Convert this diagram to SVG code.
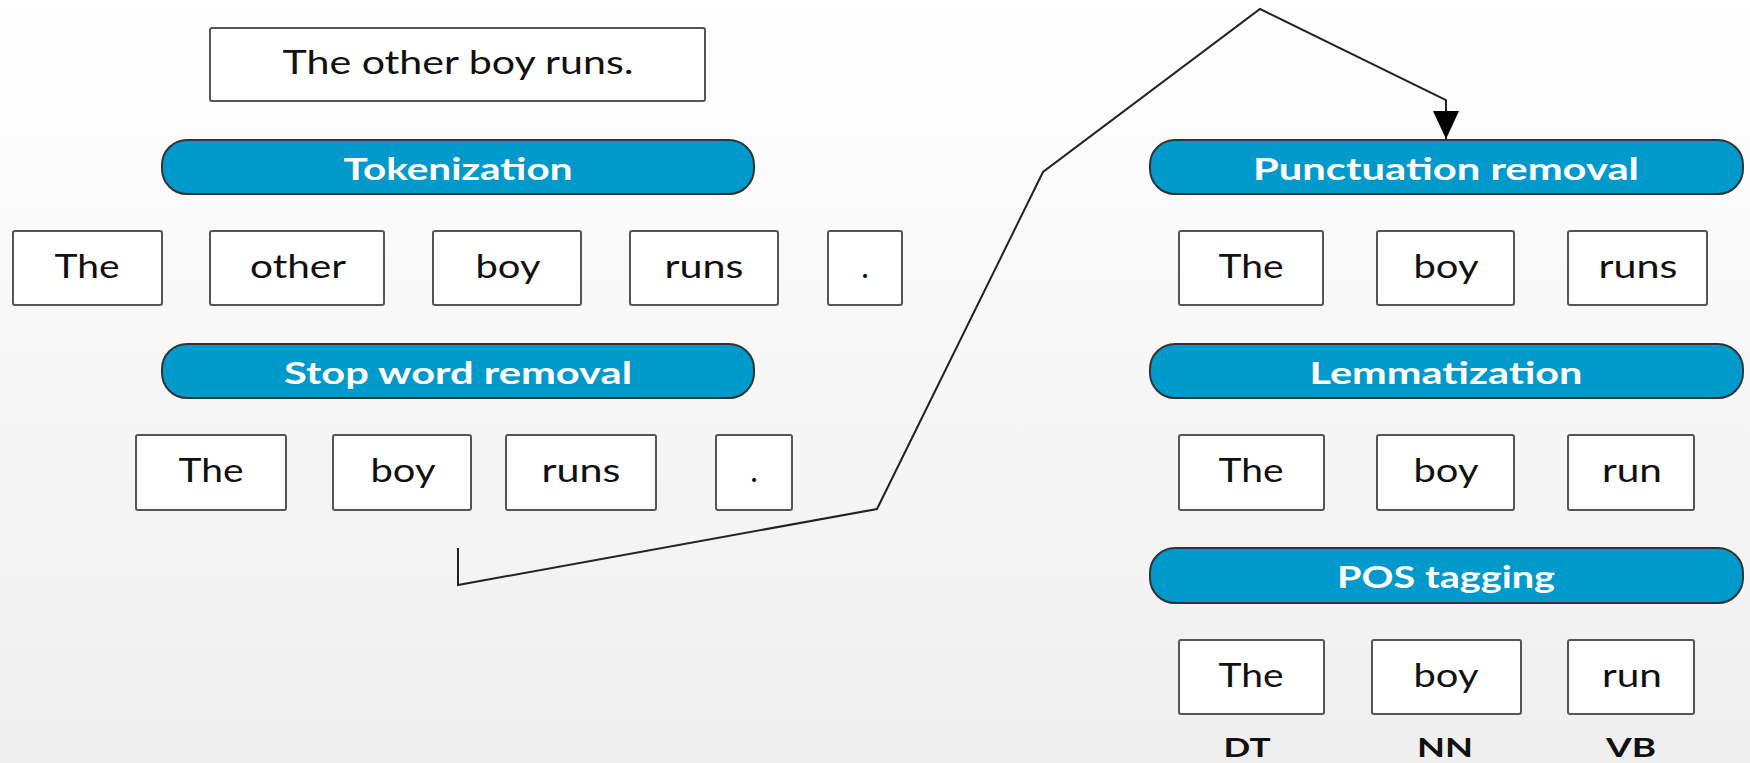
<svg xmlns="http://www.w3.org/2000/svg" width="1750" height="763" viewBox="0 0 1750 763">
<defs>
<linearGradient id="bg" x1="0" y1="0" x2="0" y2="1">
<stop offset="0" stop-color="#ffffff"/>
<stop offset="0.1" stop-color="#fdfdfd"/>
<stop offset="1" stop-color="#efefef"/>
</linearGradient>
<marker id="arr" markerWidth="28" markerHeight="26" viewBox="0 0 28 26" refX="28" refY="13" orient="auto" markerUnits="userSpaceOnUse">
<path d="M0,0 L28,13 L0,26 Z" fill="#000"/>
</marker>
<style>
.box{fill:#fff;stroke:#555;stroke-width:2}
.pill{fill:#0099cc;stroke:#333;stroke-width:2}
.t{font-family:Lato,"Open Sans",sans-serif;font-size:32px;fill:#111;text-anchor:middle}
.p{font-family:Lato,"Open Sans",sans-serif;font-size:31px;font-weight:bold;fill:#fff;text-anchor:middle}
.tag{font-family:Lato,"Open Sans",sans-serif;font-size:27px;font-weight:bold;fill:#111;text-anchor:middle}
.conn{fill:none;stroke:#222;stroke-width:2}
</style>
</defs>
<rect width="1750" height="763" fill="url(#bg)"/>
<g id="input"><rect class="box" x="210" y="28" width="495" height="73" rx="2"/><text class="t" x="458" y="74" textLength="351" lengthAdjust="spacingAndGlyphs">The other boy runs.</text></g>
<g id="tokenization"><rect class="pill" x="162" y="140" width="592" height="54" rx="25"/><text class="p" x="458" y="180" textLength="229" lengthAdjust="spacingAndGlyphs">Tokenization</text></g>
<g id="tok-the"><rect class="box" x="13" y="231" width="149" height="74" rx="2"/><text class="t" x="87" y="278" textLength="65" lengthAdjust="spacingAndGlyphs">The</text></g>
<g id="tok-other"><rect class="box" x="210" y="231" width="174" height="74" rx="2"/><text class="t" x="298" y="278" textLength="96" lengthAdjust="spacingAndGlyphs">other</text></g>
<g id="tok-boy"><rect class="box" x="433" y="231" width="148" height="74" rx="2"/><text class="t" x="508" y="278" textLength="65" lengthAdjust="spacingAndGlyphs">boy</text></g>
<g id="tok-runs"><rect class="box" x="630" y="231" width="148" height="74" rx="2"/><text class="t" x="704" y="278" textLength="79" lengthAdjust="spacingAndGlyphs">runs</text></g>
<g id="tok-dot"><rect class="box" x="828" y="231" width="74" height="74" rx="2"/><text class="t" x="865" y="278">.</text></g>
<g id="stopword"><rect class="pill" x="162" y="344" width="592" height="54" rx="25"/><text class="p" x="458" y="384" textLength="348" lengthAdjust="spacingAndGlyphs">Stop word removal</text></g>
<g id="sw-the"><rect class="box" x="136" y="435" width="150" height="75" rx="2"/><text class="t" x="211" y="482" textLength="65" lengthAdjust="spacingAndGlyphs">The</text></g>
<g id="sw-boy"><rect class="box" x="333" y="435" width="138" height="75" rx="2"/><text class="t" x="403" y="482" textLength="65" lengthAdjust="spacingAndGlyphs">boy</text></g>
<g id="sw-runs"><rect class="box" x="506" y="435" width="150" height="75" rx="2"/><text class="t" x="581" y="482" textLength="79" lengthAdjust="spacingAndGlyphs">runs</text></g>
<g id="sw-dot"><rect class="box" x="716" y="435" width="76" height="75" rx="2"/><text class="t" x="754" y="482">.</text></g>
<g id="punct"><rect class="pill" x="1150" y="140" width="593" height="54" rx="25"/><text class="p" x="1446" y="180" textLength="386" lengthAdjust="spacingAndGlyphs">Punctuation removal</text></g>
<g id="pr-the"><rect class="box" x="1179" y="231" width="144" height="74" rx="2"/><text class="t" x="1251" y="278" textLength="65" lengthAdjust="spacingAndGlyphs">The</text></g>
<g id="pr-boy"><rect class="box" x="1377" y="231" width="137" height="74" rx="2"/><text class="t" x="1446" y="278" textLength="65" lengthAdjust="spacingAndGlyphs">boy</text></g>
<g id="pr-runs"><rect class="box" x="1568" y="231" width="139" height="74" rx="2"/><text class="t" x="1638" y="278" textLength="79" lengthAdjust="spacingAndGlyphs">runs</text></g>
<g id="lemma"><rect class="pill" x="1150" y="344" width="593" height="54" rx="25"/><text class="p" x="1446" y="384" textLength="273" lengthAdjust="spacingAndGlyphs">Lemmatization</text></g>
<g id="lm-the"><rect class="box" x="1179" y="435" width="145" height="75" rx="2"/><text class="t" x="1251" y="482" textLength="65" lengthAdjust="spacingAndGlyphs">The</text></g>
<g id="lm-boy"><rect class="box" x="1377" y="435" width="137" height="75" rx="2"/><text class="t" x="1446" y="482" textLength="65" lengthAdjust="spacingAndGlyphs">boy</text></g>
<g id="lm-run"><rect class="box" x="1568" y="435" width="126" height="75" rx="2"/><text class="t" x="1632" y="482" textLength="60" lengthAdjust="spacingAndGlyphs">run</text></g>
<g id="pos"><rect class="pill" x="1150" y="548" width="593" height="55" rx="25"/><text class="p" x="1446" y="588" textLength="218" lengthAdjust="spacingAndGlyphs">POS tagging</text></g>
<g id="pos-the"><rect class="box" x="1179" y="640" width="145" height="74" rx="2"/><text class="t" x="1251" y="687" textLength="65" lengthAdjust="spacingAndGlyphs">The</text><text class="tag" x="1247" y="757" textLength="47" lengthAdjust="spacingAndGlyphs">DT</text></g>
<g id="pos-boy"><rect class="box" x="1372" y="640" width="149" height="74" rx="2"/><text class="t" x="1446" y="687" textLength="65" lengthAdjust="spacingAndGlyphs">boy</text><text class="tag" x="1445" y="757" textLength="56" lengthAdjust="spacingAndGlyphs">NN</text></g>
<g id="pos-run"><rect class="box" x="1568" y="640" width="126" height="74" rx="2"/><text class="t" x="1632" y="687" textLength="60" lengthAdjust="spacingAndGlyphs">run</text><text class="tag" x="1631" y="757" textLength="50" lengthAdjust="spacingAndGlyphs">VB</text></g>
<g id="connectors">
<path class="conn" d="M458,548 L458,585 L877,509 L1043,172 L1260,9 L1446,100 L1446,139" marker-end="url(#arr)"/>
</g>
</svg>
